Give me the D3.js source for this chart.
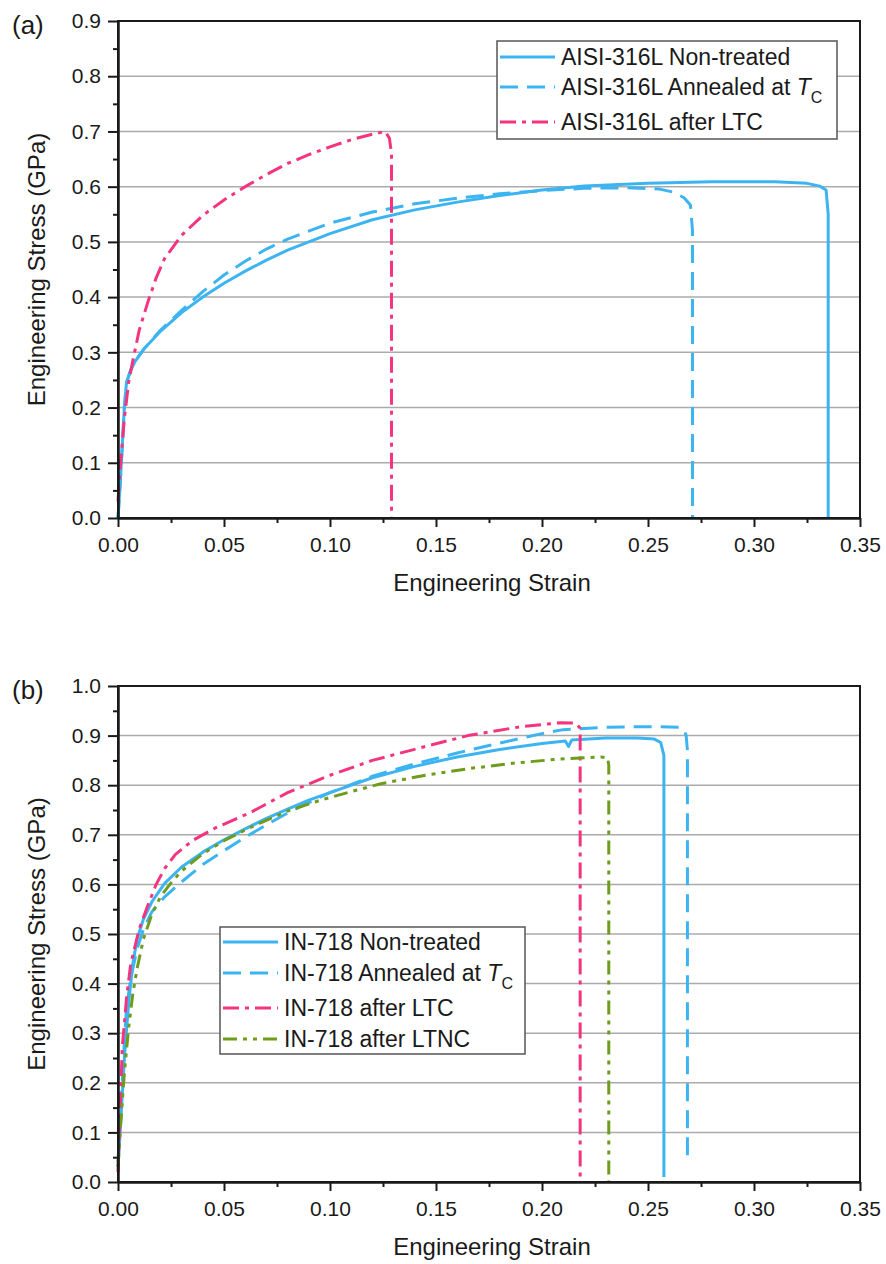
<!DOCTYPE html>
<html>
<head>
<meta charset="utf-8">
<script src="https://cdn.jsdelivr.net/npm/d3@7"></script>
<style>
  body { margin: 0; background: #fff; }
  text { font-family: "Liberation Sans", Arial, sans-serif; fill: #1a1a1a; }
</style>
</head>
<body>
<div id="chart"></div>
<script>
// tick values
const strainTicks = [0, 0.05, 0.10, 0.15, 0.20, 0.25, 0.30, 0.35];
const strainMinor = [0.025, 0.075, 0.125, 0.175, 0.225, 0.275, 0.325];
const stressTicksA = [0, 0.1, 0.2, 0.3, 0.4, 0.5, 0.6, 0.7, 0.8, 0.9];
const stressTicksB = [0, 0.1, 0.2, 0.3, 0.4, 0.5, 0.6, 0.7, 0.8, 0.9, 1.0];

// (a) AISI-316L curves, [strain, stress GPa]
const ss316Plain = [[0,0],[0.001,0.06],[0.002,0.13],[0.003,0.2],[0.004,0.245],[0.006,0.268],[0.008,0.283],[0.012,0.305],[0.02,0.338],[0.03,0.372],[0.04,0.4],[0.05,0.425],[0.06,0.447],[0.07,0.467],[0.08,0.485],[0.09,0.5],[0.10,0.515],[0.12,0.54],[0.14,0.558],[0.16,0.572],[0.18,0.584],[0.20,0.594],[0.22,0.601],[0.25,0.606],[0.28,0.609],[0.31,0.609],[0.325,0.606],[0.331,0.601],[0.334,0.594],[0.335,0.55],[0.335,0]];
const ss316Annealed = [[0,0],[0.001,0.06],[0.002,0.13],[0.003,0.2],[0.004,0.245],[0.006,0.268],[0.008,0.283],[0.012,0.305],[0.02,0.34],[0.03,0.376],[0.04,0.41],[0.05,0.44],[0.06,0.465],[0.07,0.487],[0.08,0.505],[0.10,0.534],[0.12,0.554],[0.14,0.569],[0.16,0.579],[0.18,0.587],[0.20,0.593],[0.22,0.597],[0.24,0.598],[0.255,0.596],[0.262,0.59],[0.267,0.58],[0.270,0.567],[0.271,0.52],[0.271,0]];
const ss316LTC = [[0,0.03],[0.001,0.09],[0.003,0.18],[0.005,0.245],[0.007,0.285],[0.010,0.34],[0.014,0.39],[0.018,0.435],[0.022,0.47],[0.03,0.512],[0.04,0.548],[0.05,0.576],[0.06,0.6],[0.07,0.622],[0.08,0.642],[0.09,0.658],[0.10,0.672],[0.11,0.685],[0.12,0.695],[0.126,0.7],[0.128,0.688],[0.129,0.66],[0.129,0]];

// (b) IN-718 curves, [strain, stress GPa]
const in718Plain = [[0,0.03],[0.001,0.1],[0.003,0.25],[0.005,0.36],[0.007,0.44],[0.009,0.49],[0.012,0.53],[0.016,0.565],[0.022,0.602],[0.03,0.635],[0.04,0.665],[0.05,0.69],[0.06,0.712],[0.07,0.733],[0.08,0.752],[0.09,0.77],[0.10,0.785],[0.12,0.815],[0.14,0.838],[0.16,0.857],[0.18,0.872],[0.20,0.884],[0.211,0.889],[0.2125,0.878],[0.214,0.891],[0.23,0.895],[0.245,0.895],[0.253,0.893],[0.256,0.886],[0.2575,0.86],[0.2575,0.01]];
const in718Annealed = [[0,0.04],[0.001,0.12],[0.003,0.28],[0.004,0.35],[0.006,0.41],[0.009,0.47],[0.012,0.51],[0.016,0.545],[0.022,0.575],[0.03,0.605],[0.04,0.64],[0.05,0.668],[0.06,0.695],[0.07,0.72],[0.08,0.744],[0.09,0.765],[0.10,0.785],[0.12,0.818],[0.14,0.843],[0.16,0.865],[0.18,0.885],[0.20,0.904],[0.21,0.912],[0.23,0.917],[0.25,0.918],[0.265,0.917],[0.267,0.912],[0.268,0.9],[0.2686,0.87],[0.2686,0.04]];
const in718LTC = [[0,0.02],[0.001,0.14],[0.002,0.27],[0.004,0.37],[0.006,0.44],[0.01,0.51],[0.014,0.557],[0.018,0.6],[0.022,0.632],[0.027,0.66],[0.035,0.688],[0.046,0.714],[0.0625,0.745],[0.08,0.785],[0.10,0.82],[0.12,0.85],[0.145,0.878],[0.165,0.9],[0.19,0.918],[0.209,0.926],[0.216,0.925],[0.218,0.915],[0.218,0]];
const in718LTNC = [[0,0.03],[0.001,0.1],[0.003,0.22],[0.005,0.31],[0.007,0.38],[0.009,0.43],[0.012,0.49],[0.016,0.54],[0.02,0.575],[0.025,0.603],[0.03,0.627],[0.04,0.662],[0.05,0.688],[0.0625,0.715],[0.08,0.748],[0.0956,0.77],[0.11,0.787],[0.124,0.803],[0.145,0.82],[0.1665,0.834],[0.188,0.845],[0.209,0.853],[0.228,0.857],[0.231,0.855],[0.2315,0.84],[0.2315,0]];

const blue = "#3db4f2", pink = "#f5347f", green = "#6e9c1c";
const solid = null, dashed = "18,9", dashDot = "16,6,4,6", dashDotDot = "14,6,4,6,4,6";

const svg = d3.select("#chart").append("svg")
    .attr("width", 886)
    .attr("height", 1264);

function drawPanel(p) {
    const x = d3.scaleLinear().domain([0, 0.35]).range([118, 860]);
    const y = d3.scaleLinear().domain([0, p.yMax]).range([p.bottom, p.top]);
    const g = svg.append("g");

    // horizontal grid
    g.selectAll(".grid")
        .data(p.yTicks.filter(v => v > 0 && v < p.yMax - 1e-9))
        .enter()
        .append("line")
            .attr("x1", x(0)).attr("x2", x(0.35))
            .attr("y1", d => y(d)).attr("y2", d => y(d))
            .attr("stroke", "#ababab")
            .attr("stroke-width", 1.5);

    // curves
    const line = d3.line().x(d => x(d[0])).y(d => y(d[1]));
    p.series.forEach(s => {
        g.append("path")
            .datum(s.data)
            .attr("d", line)
            .attr("fill", "none")
            .attr("stroke", s.color)
            .attr("stroke-width", 3)
            .attr("stroke-linejoin", "round")
            .attr("stroke-dasharray", s.dash);
    });

    // frame
    g.append("rect")
        .attr("x", x(0)).attr("y", y(p.yMax))
        .attr("width", x(0.35) - x(0)).attr("height", y(0) - y(p.yMax))
        .attr("fill", "none").attr("stroke", "#1a1a1a").attr("stroke-width", 2);

    // axes
    const xAx = g.append("g").attr("transform", `translate(0,${p.bottom})`)
        .call(d3.axisBottom(x).tickValues(strainTicks).tickSize(9).tickSizeOuter(0)
            .tickPadding(10).tickFormat(d3.format(".2f")));
    g.append("g").attr("transform", `translate(0,${p.bottom})`)
        .call(d3.axisBottom(x).tickValues(strainMinor).tickSize(5).tickSizeOuter(0).tickFormat(""));
    const yAx = g.append("g").attr("transform", `translate(${x(0)},0)`)
        .call(d3.axisLeft(y).tickValues(p.yTicks).tickSize(10).tickSizeOuter(0)
            .tickPadding(7).tickFormat(d3.format(".1f")));
    g.append("g").attr("transform", `translate(${x(0)},0)`)
        .call(d3.axisLeft(y).tickValues(p.yTicks.slice(0, -1).map(v => v + 0.05)).tickSize(5).tickSizeOuter(0).tickFormat(""));
    g.selectAll(".domain, .tick line").attr("stroke", "#1a1a1a").attr("stroke-width", 2);
    g.selectAll(".tick text").attr("font-size", "21px").attr("fill", "#1a1a1a")
        .attr("font-family", '"Liberation Sans", Arial, sans-serif');

    // titles
    g.append("text")
        .attr("x", 492).attr("y", p.bottom + 73)
        .attr("text-anchor", "middle").attr("font-size", "24px")
        .text("Engineering Strain");
    g.append("text")
        .attr("transform", `translate(45,${(p.top + p.bottom) / 2}) rotate(-90)`)
        .attr("text-anchor", "middle").attr("font-size", "24px")
        .text("Engineering Stress (GPa)");
    g.append("text")
        .attr("x", 12).attr("y", p.top + 13)
        .attr("font-size", "26px")
        .text(p.label);

    // legend
    const L = p.legend;
    g.append("rect")
        .attr("x", L.x).attr("y", L.y).attr("width", L.w).attr("height", L.h)
        .attr("fill", "#fff").attr("stroke", "#555").attr("stroke-width", 1.5);
    p.series.forEach((s, i) => {
        const ly = L.rows[i];
        g.append("line")
            .attr("x1", L.x + 3).attr("x2", L.x + 58)
            .attr("y1", ly).attr("y2", ly)
            .attr("stroke", s.color).attr("stroke-width", 3)
            .attr("stroke-dasharray", s.dash);
        const t = g.append("text")
            .attr("x", L.x + 64).attr("y", ly + 8)
            .attr("font-size", "23px");
        t.append("tspan").text(s.name);
        if (s.sub) {
            t.append("tspan").attr("font-style", "italic").text("T");
            t.append("tspan").attr("font-size", "16px").attr("dy", 8).text("C");
        }
    });
}

drawPanel({
    label: "(a)", top: 21, bottom: 518, yMax: 0.9, yTicks: stressTicksA,
    series: [
        { name: "AISI-316L Non-treated", data: ss316Plain, color: blue, dash: solid },
        { name: "AISI-316L Annealed at ", sub: true, data: ss316Annealed, color: blue, dash: dashed },
        { name: "AISI-316L after LTC", data: ss316LTC, color: pink, dash: dashDot }
    ],
    legend: { x: 497, y: 41, w: 340, h: 98, rows: [57, 87, 122] }
});

drawPanel({
    label: "(b)", top: 686, bottom: 1182, yMax: 1.0, yTicks: stressTicksB,
    series: [
        { name: "IN-718 Non-treated", data: in718Plain, color: blue, dash: solid },
        { name: "IN-718 Annealed at ", sub: true, data: in718Annealed, color: blue, dash: dashed },
        { name: "IN-718 after LTC", data: in718LTC, color: pink, dash: dashDot },
        { name: "IN-718 after LTNC", data: in718LTNC, color: green, dash: dashDotDot }
    ],
    legend: { x: 220, y: 927, w: 305, h: 127, rows: [942, 973, 1008, 1039] }
});
</script>
</body>
</html>
